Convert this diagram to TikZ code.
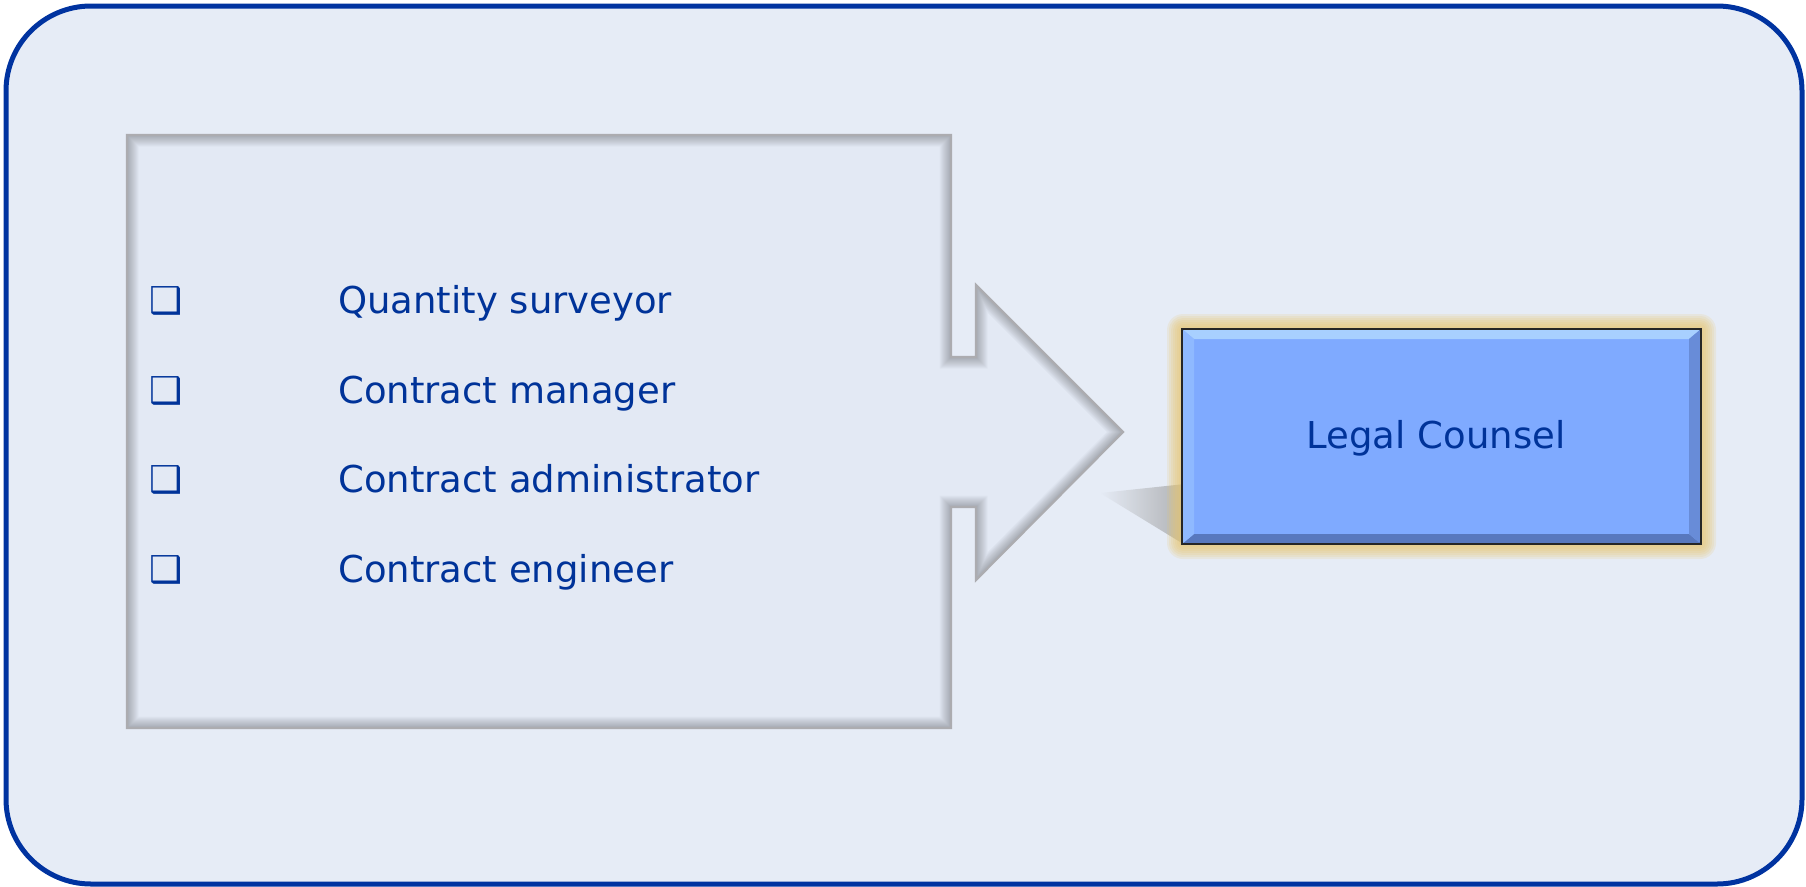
\documentclass[tikz,border=0pt]{standalone}
\usepackage{fontspec}
\setmainfont{DejaVu Sans}
\definecolor{frameblue}{RGB}{0,51,160}
\definecolor{bgfill}{RGB}{230,236,246}
\definecolor{innerfill}{RGB}{227,233,244}
\definecolor{txtblue}{RGB}{0,51,153}
\definecolor{lcfill}{RGB}{127,170,255}
\definecolor{lclight}{RGB}{168,208,255}
\definecolor{lcdark}{RGB}{88,120,190}
\definecolor{glowcol}{RGB}{232,200,115}
\definecolor{edgegray}{RGB}{172,172,176}
\begin{document}
\begin{tikzpicture}[x=1pt,y=-1pt,
  itemtext/.style={anchor=base west, font=\fontsize{37}{44}\selectfont, text=txtblue, inner sep=0pt},
  bulletmark/.style={anchor=base west, font=\fontsize{37}{44}\selectfont, text=txtblue, inner sep=0pt},
  lcbox/.style={draw=black, line width=2pt, fill=lcfill, minimum width=517pt, minimum height=213pt, inner sep=0pt},
  lctext/.style={font=\fontsize{37}{44}\selectfont, text=txtblue, inner sep=0pt},
  edgeline/.style={draw=edgegray, line width=2.2pt, line join=miter}]
\useasboundingbox (0,0) rectangle (1806,886);
% outer frame
\draw[line width=5pt, draw=frameblue, fill=bgfill, rounded corners=85pt] (6,6) rectangle (1802,884);
% engraved arrow-shaped panel
\def\panelpath{(127,135) -- (951,135) -- (951,357) -- (976,357) -- (976,285) -- (1123,432) -- (976,580) -- (976,507) -- (951,507) -- (951,728) -- (127,728) -- cycle}
\fill[innerfill] \panelpath;
\begin{scope}
\clip \panelpath;
\foreach \w in {3,5,...,23}{
  \draw[line width=\w pt, black, opacity=0.025, line join=miter] \panelpath;
}
\end{scope}
\draw[edgeline] \panelpath;
% bullets and items
\node[bulletmark] (b1) at (149,313) {❑};
\node[bulletmark] (b2) at (149,403) {❑};
\node[bulletmark] (b3) at (149,492) {❑};
\node[bulletmark] (b4) at (149,582) {❑};
\node[itemtext] (q1) at (338,313) {Quantity surveyor};
\node[itemtext] (q2) at (338,403) {Contract manager};
\node[itemtext] (q3) at (338,492) {Contract administrator};
\node[itemtext] (q4) at (338,582) {Contract engineer};
% shadow of the legal counsel box
\shade[left color=bgfill, right color=black!40, opacity=0.7] (1100,493) -- (1185,484) -- (1185,545) -- cycle;
% glow
\foreach \g in {2,4,...,16}{
  \fill[glowcol, opacity=0.17, rounded corners=\g pt] (1183-\g,330-\g) rectangle (1700+\g,543+\g);
}
% legal counsel box
\node[lcbox] (lc) at (1441.5,436.5) {};
\fill[lclight] (lc.north west) -- (lc.north east) -- ([shift={(-12pt,-10pt)}]lc.north east) -- ([shift={(12pt,-10pt)}]lc.north west) -- cycle;
\fill[lcdark] (lc.south west) -- (lc.south east) -- ([shift={(-12pt,10pt)}]lc.south east) -- ([shift={(12pt,10pt)}]lc.south west) -- cycle;
\fill[lcdark!60!lcfill] (lc.north east) -- (lc.south east) -- ([shift={(-12pt,10pt)}]lc.south east) -- ([shift={(-12pt,-10pt)}]lc.north east) -- cycle;
\fill[lclight!40!lcfill] (lc.north west) -- (lc.south west) -- ([shift={(12pt,10pt)}]lc.south west) -- ([shift={(12pt,-10pt)}]lc.north west) -- cycle;
\draw[black!85, line width=2.5pt] (lc.north west) rectangle (lc.south east);
\node[lctext] (lct) at (1436,438) {Legal Counsel};
\end{tikzpicture}
\end{document}
